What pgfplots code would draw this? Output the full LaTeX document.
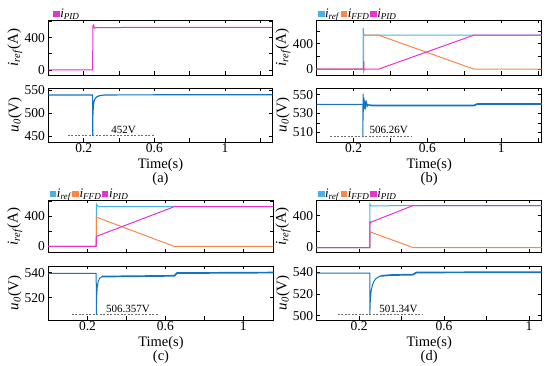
\documentclass[border=0pt]{standalone}
\usepackage{fontspec}
\setmainfont{Liberation Serif}
\usepackage{pgfplots}
\pgfplotsset{compat=1.18}
\definecolor{cref}{RGB}{70,180,235}
\definecolor{cffd}{RGB}{250,135,70}
\definecolor{cpid}{RGB}{230,50,210}
\definecolor{cu}{RGB}{20,115,195}
\definecolor{cdash}{RGB}{110,110,110}
\tikzset{ann/.style={font=\fontsize{11}{11}\selectfont, anchor=south west, inner sep=1pt},
  noisy/.style={cu, line width=1.7pt},
  dashl/.style={cdash, dash pattern=on 2pt off 1.5pt, line width=0.7pt}}
\pgfplotsset{
  base/.style={scale only axis, enlargelimits=false, clip=true,
    axis line style={line width=0.9pt}, tick align=inside, major tick length=3.5pt,
    tick style={line width=0.7pt,black}, xmin=0,
    /pgf/number format/assume math mode=true,
    tick label style={font=\fontsize{13.5}{13.5}\selectfont},
    xticklabel style={inner sep=1pt},
    label style={font=\fontsize{15}{15}\selectfont},
    every axis plot/.append style={line width=1pt},
    ylabel style={at={(axis description cs:-0.15,0.5)}, anchor=center}},
  topax/.style={base, ytick={0,200,400,600}, yticklabels={0,,400,}, xticklabels={,,,,,,},
    ylabel={\textit{i}\textsubscript{\textit{ref}}(A)},
    legend columns=3,
    legend style={at={(axis description cs:0.005,1)}, anchor=south west, draw=none, fill=none,
      inner sep=0pt, font=\fontsize{13}{13}\selectfont,
      /tikz/every even column/.append style={column sep=0pt}, nodes={inner sep=0.6pt}},
    legend image code/.code={\fill[##1] (0pt,-2.8pt) rectangle (5.5pt,2.8pt);}},
  botax/.style={base, ylabel={\textit{u}\textsubscript{\textit{0}}(V)},
    xlabel style={at={(axis description cs:0.5,0)}, anchor=center, yshift=-30pt, align=center,
      font=\fontsize{14.5}{13}\selectfont}},
}
\begin{document}
\begin{tikzpicture}
\useasboundingbox (0,0) rectangle (550pt,366pt);
% ---------------- (a) ----------------
\begin{axis}[topax, at={(48.5pt,291pt)}, anchor=south west, width=224pt, height=55pt,
  xmax=1.27, xtick={0.2,0.4,0.6,0.8,1,1.2}, ymin=-62, ymax=619,
  legend style={at={(axis description cs:0.02,1)}}]
\addplot[cpid] coordinates {(0,0) (0.25,0) (0.252,545) (0.256,558) (0.26,518) (0.27,524) (0.4,526) (1.27,528)};
\addlegendentry{\textit{i}\textsubscript{\textit{PID}}}
\end{axis}
\begin{axis}[botax, at={(48.5pt,224pt)}, anchor=south west, width=224pt, height=54pt,
  xmax=1.27, xtick={0.2,0.4,0.6,0.8,1,1.2}, xticklabels={0.2,,0.6,,1,},
  ymin=438, ymax=555, ytick={450,500,550}, xlabel={Time(s)\\(a)}]
\addplot[dashl] coordinates {(0.11,452) (0.6,452)};
\addplot[cu, line width=1.2pt] coordinates {(0,540) (0.25,540) (0.2505,452) (0.2515,495) (0.254,515) (0.258,526) (0.265,532) (0.275,536) (0.29,538.5) (0.32,540) (1.27,540.5)};
\node[ann] at (axis cs:0.35,453) {452V};
\end{axis}
% ---------------- (b) ----------------
\begin{axis}[topax, at={(316.7pt,291pt)}, anchor=south west, width=225pt, height=55pt,
  xmax=1.22, xtick={0.2,0.4,0.6,0.8,1,1.2}, ymin=-90, ymax=770]
\addplot[cref] coordinates {(0,0) (0.2515,0) (0.252,645) (0.255,560) (0.258,535) (1.22,535)};
\addlegendentry{\textit{i}\textsubscript{\textit{ref}}}
\addplot[cffd] coordinates {(0,0) (0.254,0) (0.255,535) (0.334,535) (0.854,0) (1.22,0)};
\addlegendentry{\textit{i}\textsubscript{\textit{FFD}}}
\addplot[cpid] coordinates {(0,0) (0.254,0) (0.255,130) (0.256,-20) (0.258,0) (0.334,0) (0.854,535) (1.22,535)};
\addlegendentry{\textit{i}\textsubscript{\textit{PID}}}
\end{axis}
\begin{axis}[botax, at={(316.7pt,224pt)}, anchor=south west, width=225pt, height=54pt,
  xmax=1.22, xtick={0.2,0.4,0.6,0.8,1,1.2}, xticklabels={0.2,,0.6,,1,},
  ymin=500, ymax=557, ytick={510,520,530,540,550}, yticklabels={510,,530,,550}, xlabel={Time(s)\\(b)}]
\addplot[dashl] coordinates {(0.074,506.26) (0.515,506.26)};
\addplot[noisy] coordinates {(0.28,539) (0.3,538.6) (0.6,538.5) (0.854,538.6) (0.87,540) (1.22,540.2)};
\addplot[cu] coordinates {(0,539.8) (0.25,539.8) (0.2505,506.26) (0.252,551) (0.254,532) (0.256,547) (0.259,535) (0.262,544) (0.266,537) (0.27,542) (0.275,538) (0.28,540)};
\node[ann] at (axis cs:0.28,507) {506.26V};
\end{axis}
% ---------------- (c) ----------------
\begin{axis}[topax, at={(48.5pt,113.5pt)}, anchor=south west, width=225pt, height=52.5pt,
  xmax=1.155, xtick={0.2,0.4,0.6,0.8,1}, ymin=-80, ymax=613]
\addplot[cref] coordinates {(0,0) (0.245,0) (0.2455,560) (0.25,545) (0.255,525) (1.155,527)};
\addlegendentry{\textit{i}\textsubscript{\textit{ref}}}
\addplot[cffd] coordinates {(0,0) (0.245,0) (0.2455,387) (0.646,0) (1.155,0)};
\addlegendentry{\textit{i}\textsubscript{\textit{FFD}}}
\addplot[cpid] coordinates {(0,0) (0.245,0) (0.2455,110) (0.248,135) (0.646,525) (1.155,525)};
\addlegendentry{\textit{i}\textsubscript{\textit{PID}}}
\end{axis}
\begin{axis}[botax, at={(48.5pt,46pt)}, anchor=south west, width=225pt, height=54pt,
  xmax=1.155, xtick={0.2,0.4,0.6,0.8,1}, xticklabels={0.2,,0.6,,1},
  ymin=502, ymax=545.5, ytick={520,540}, xlabel={Time(s)\\(c)}]
\addplot[dashl] coordinates {(0.12,506.357) (0.565,506.357)};
\addplot[noisy] coordinates {(0.275,537) (0.4,537.2) (0.646,537.6) (0.66,539.8) (1.155,540.2)};
\addplot[cu] coordinates {(0,539.5) (0.245,539.5) (0.2455,506.36) (0.247,520) (0.25,528) (0.255,533) (0.262,535.5) (0.275,537)};
\node[ann] at (axis cs:0.29,507) {506.357V};
\end{axis}
% ---------------- (d) ----------------
\begin{axis}[topax, at={(316.7pt,113.5pt)}, anchor=south west, width=225pt, height=52.5pt,
  xmax=1.06, xtick={0.2,0.4,0.6,0.8,1}, ymin=-62, ymax=598]
\addplot[cref] coordinates {(0,0) (0.25,0) (0.2505,548) (0.254,530) (0.26,524) (0.454,528) (1.06,528)};
\addlegendentry{\textit{i}\textsubscript{\textit{ref}}}
\addplot[cffd] coordinates {(0,0) (0.25,0) (0.2505,198) (0.454,0) (1.06,0)};
\addlegendentry{\textit{i}\textsubscript{\textit{FFD}}}
\addplot[cpid] coordinates {(0,0) (0.25,0) (0.2505,330) (0.252,300) (0.256,320) (0.454,528) (1.06,528)};
\addlegendentry{\textit{i}\textsubscript{\textit{PID}}}
\end{axis}
\begin{axis}[botax, at={(316.7pt,46pt)}, anchor=south west, width=225pt, height=54pt,
  xmax=1.06, xtick={0.2,0.4,0.6,0.8,1}, xticklabels={0.2,,0.6,,1},
  ymin=496, ymax=546, ytick={500,520,540}, xlabel={Time(s)\\(d)}]
\addplot[dashl] coordinates {(0.10,501.34) (0.50,501.34)};
\addplot[noisy] coordinates {(0.3,536.8) (0.35,537.6) (0.454,538) (0.47,540) (1.06,540.3)};
\addplot[cu] coordinates {(0,539.4) (0.25,539.4) (0.2505,501.34) (0.252,512) (0.256,522) (0.262,528) (0.27,532) (0.28,534.5) (0.3,536.8)};
\node[ann] at (axis cs:0.29,502) {501.34V};
\end{axis}
\end{tikzpicture}
\end{document}
